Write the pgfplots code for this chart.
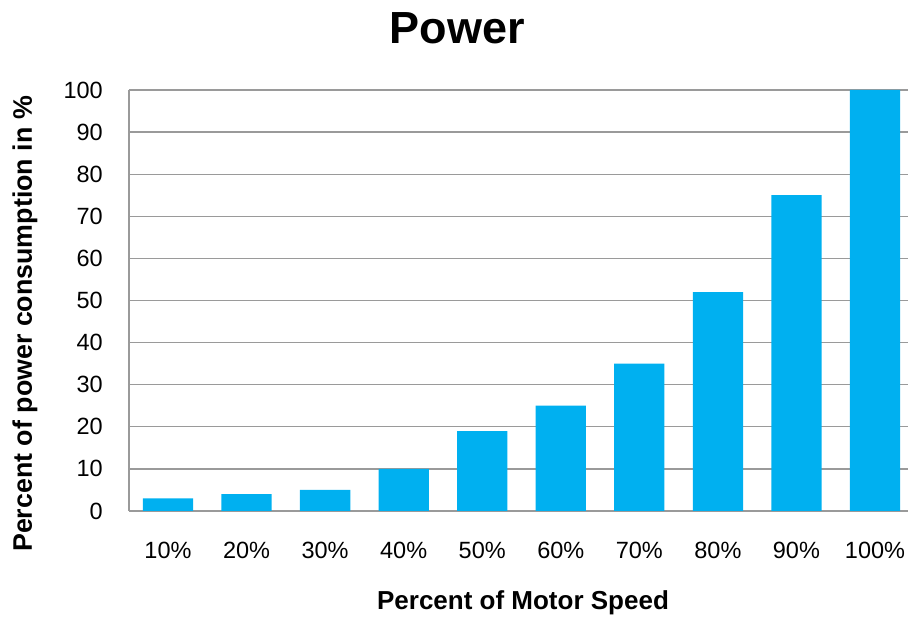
\documentclass[border=0pt]{standalone}
\usepackage{pgfplots}
\pgfplotsset{compat=1.18}
\usepackage{fontspec}
\setmainfont{Liberation Sans}
\definecolor{barblue}{HTML}{00B0F0}
\definecolor{gridgray}{HTML}{9A9A9A}
\begin{document}
\begin{tikzpicture}
% fixed page frame around the axis
\path[use as bounding box] (-129pt,-110pt) rectangle (779pt,511pt);
\begin{axis}[
  at={(0pt,0pt)}, anchor=south west,
  scale only axis, width=779pt, height=421pt,
  xmin=-0.4965, xmax=9.42, ymin=0, ymax=100,
  xtick={0,...,9},
  xticklabels={10\%,20\%,30\%,40\%,50\%,60\%,70\%,80\%,90\%,100\%},
  ytick={0,10,...,100},
  /pgf/number format/assume math mode=true,
  major tick length=0pt,
  ymajorgrids,
  grid style={gridgray, line width=1.3pt},
  axis x line=bottom, axis y line=left,
  axis line style={gridgray, line width=1.3pt, -},
  every tick label/.append style={inner sep=0pt, font=\fontsize{23.5}{28}\selectfont},
  yticklabel style={anchor=east, xshift=-26pt},
  xticklabel style={anchor=north, yshift=-31pt},
  clip=false,
]
\addplot[ybar, bar width=0.64, fill=barblue, draw=none]
  coordinates {(0,3) (1,4) (2,5) (3,10) (4,19) (5,25) (6,35) (7,52) (8,75) (9,100)};
\end{axis}
\node[font=\bfseries\fontsize{45}{54}\selectfont] at (328.5pt,483pt) {Power};
\node[font=\bfseries\fontsize{26}{31}\selectfont] at (394pt,-92pt) {Percent of Motor Speed};
\node[font=\bfseries\fontsize{26.8}{32}\selectfont, rotate=90] at (-104pt,187pt) {Percent of power consumption in \%};
\end{tikzpicture}
\end{document}
